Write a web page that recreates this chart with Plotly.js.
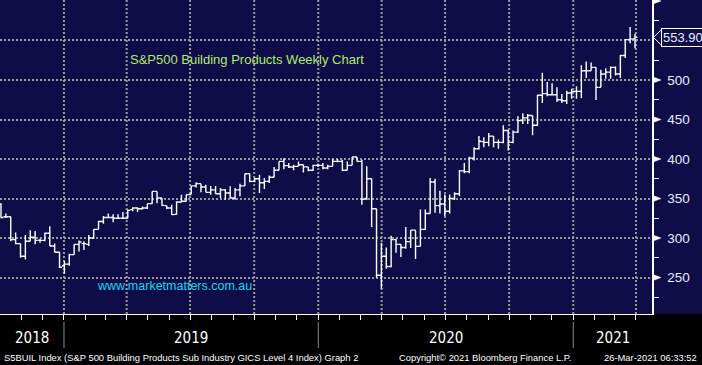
<!DOCTYPE html>
<html><head><meta charset="utf-8">
<script src="https://cdn.plot.ly/plotly-3.0.1.min.js"></script>
<style>html,body{margin:0;padding:0;background:#000;overflow:hidden}#chart{width:702px;height:365px}</style>
</head><body><div id="chart"></div>
<script>
// ---- data (weekly bars, first week ending 2018-09-28) ----
const firstWeek = [2018, 8, 28];
const opens = [343,327,327,298,293,277,296,301,297,297,306,290,282,265,267,279,292,293,292,300,311,321,326,326,325,325,325,336,338,337,338,343.5,359,350.7,341,338,330,345.6,346.5,355,366,368.8,364.6,357.8,361,356,361,357,350.7,361,366,381.4,371.7,375,370,371.7,377,385.7,397,391.6,389.9,390.7,392.8,390,385.7,392,392,388.6,390.7,397,397,385.7,392,402.5,397,350,375,337,253,277,264,298,292,288,295.5,310,289.5,311,331,371,341,343,334,350,356,385,384,401,413,422,421,429,421,421,436,421,434,448.6,452,455,442.7,480.6,482.7,481.4,481.4,475,473.8,483.5,485.6,485.6,511.7,511.7,515.9,490.7,507.5,510,515.9,507.5,531,551,552];
const highs = [344,331,327,307,293,304,310,309,299,307,315,293,283,271,280,292,297,296,304,311,322,328,331,330,330,333,336,339,339,340,343.5,359,359,350.7,341,342,346.5,354.9,355,366,370.5,368.8,367.5,366,366,363.3,362,365.4,363.3,368.8,381.4,381.4,376,380,376,379,389.9,397,401,395,392.8,397,392.8,390,392.8,394,395,392.8,400,400,399,397,402.5,402.5,399,391,375,337,294,288,303,299,292,314,310,310,336,336,376,375,360,355,355,358,386,395,403,415,429,427.5,433,429,424.6,442.7,437,436,454,458,457,455,481.4,509,497.4,496,490.7,482.3,486.5,489,492,518.5,523.5,522,516,513,515,517.2,517,531.6,551.7,567,558.4];
const lows = [325,325.5,296,292,275,273,296,292,294,296,290,282,262,255,265,279,283,285,290,299,311,318,325,320,325,324,325,334,333,336,336.8,343.5,344,341,336.8,329.6,329.6,345,346.5,355,364,358,357.8,354.9,356,350.7,348.6,350.7,348.6,352.8,366,370.5,370.5,357,362,369.6,377,385.7,387,388.6,385.7,390.7,383,384.4,385,390,387,387,390.7,395.8,384.4,385.7,392,397,342,348,314,250,236,261,263,281.5,276,286.6,287.5,273.6,289.5,310.6,331,332,331,328,331,348,353,382,382,398,412,415,416,415,413,420,410.7,420,433,444.4,444.4,430,442,471,479.3,481,472,470.9,469.6,476.4,476.4,477.2,502.5,511.7,474.7,490.7,501.6,501.6,505.8,502.5,527.7,546.6,540.3];
const closes = [326,327,298,293,277,296,301,297,297,306,290,282,263,267,279,292,295,293,300,311,321,326,326,325,325,325,335,338,337,338,343.5,359,350.7,341.4,338,329.6,345.6,346.5,355,366,368.8,364.6,357.8,361,356,361,357,350.7,361,366,381.4,371.7,375,370,371.7,377,385.7,397,391.6,389.9,390.7,392.8,390,385.7,392,392,388.6,390.7,397,397,385.7,392,402.5,397,349,375,337,253,277,264,298,292,288,295.5,310,289.5,311,331,371,341,343,334,350,356,385,384,401,413,422.5,421,429,421,421,436,421,434,448.6,452,455,442.7,480.6,482.7,481.4,481.4,475,473.8,483.5,485.6,485.6,511.7,511.7,515.9,490.7,507.5,510,515.9,507.5,531,551,552,553.9];
const yTickVals = [250, 300, 350, 400, 450, 500, 550, 600];
const yTickText = ['250', '300', '350', '400', '450', '500', '', ''];
const yearLabels = ['2018', '2019', '2020', '2021'];
const lastPrice = 553.90;
const titleText = 'S&amp;P500 Building Products Weekly Chart';
const siteText = 'www.marketmatters.com.au';
const footLeft = 'S5BUIL Index (S&amp;P 500 Building Products Sub Industry GICS Level 4 Index) Graph 2';
const footMid = 'Copyright\u00a9 2021 Bloomberg Finance L.P.';
const footRight = '26-Mar-2021 06:33:52';

// ---- geometry helpers ----
const DAY = 86400000;
const t0 = Date.UTC(firstWeek[0], firstWeek[1], firstWeek[2]);
const dates = closes.map((_, i) => new Date(t0 + i * 7 * DAY).toISOString().slice(0, 10));
const W = 652, H = 314, M_B = 51, M_R = 50;
const pxPerDay = 0.6967;
const xStart = t0 - (1 / pxPerDay) * DAY;
const xEnd = xStart + (W / pxPerDay) * DAY;
const iso = ms => new Date(ms).toISOString().replace('T', ' ').slice(0, 19);
const gridShift = 4.6 * DAY;
const yMin = 203.9, yMax = 601.2;
const unitsPerPx = (yMax - yMin) / H;

const NAVY = '#0e0d47';
const GRID = '#9a9a9a';

const quarterGrid = [], monthTicks = [], yearBounds = [];
for (let y = 2018; y <= 2021; y++) {
  for (let m = 0; m < 12; m++) {
    const t = Date.UTC(y, m, 1) - gridShift;
    if (t <= xStart || t >= xEnd) continue;
    monthTicks.push(iso(t));
    if (m % 3 === 0) quarterGrid.push(iso(t));
    if (m === 0) yearBounds.push(t);
  }
}
const toPx = t => (t - xStart) / DAY * pxPerDay;
const edges = [0].concat(yearBounds.map(toPx)).concat([W]);

const shapes = [];
shapes.push({type: 'rect', xref: 'paper', yref: 'paper', x0: 1, x1: (W + M_R) / W, y0: 0, y1: 1,
  fillcolor: NAVY, line: {width: 0}, layer: 'below'});
quarterGrid.forEach(d => shapes.push({type: 'line', xref: 'x', yref: 'paper', x0: d, x1: d, y0: 0, y1: 1,
  line: {color: GRID, width: 2, dash: '2px,2px'}, layer: 'below'}));
yearBounds.forEach(t => shapes.push({type: 'line', xref: 'x', yref: 'paper', x0: iso(t), x1: iso(t),
  y0: -8 / H, y1: -34 / H, line: {color: '#8a8a8a', width: 1}}));
const triH = 3 * unitsPerPx;
yTickVals.forEach(v => {
  if (v === 550) return;
  const x0 = 1 + 1 / W, x1 = 1 + 9 / W;
  shapes.push({type: 'path', xref: 'paper', yref: 'y',
    path: `M ${x0},${v - triH} L ${x1},${v} L ${x0},${v + triH} Z`,
    fillcolor: '#ffffff', line: {color: '#ffffff', width: 0.5}});
});
const pH = 7.5 * unitsPerPx;
shapes.push({type: 'path', xref: 'paper', yref: 'y',
  path: `M ${1 + 9 / W},${lastPrice + pH} L ${1 + 1.5 / W},${lastPrice} L ${1 + 9 / W},${lastPrice - pH}`,
  fillcolor: NAVY, line: {color: '#ffffff', width: 1}});

const annotations = [];
yearLabels.forEach((lab, i) => annotations.push({
  text: lab, xref: 'paper', yref: 'paper', x: (edges[i] + edges[i + 1]) / 2 / W, y: -24 / H,
  xanchor: 'center', yanchor: 'middle', showarrow: false,
  font: {family: 'Liberation Sans Narrow, DejaVu Sans Condensed, sans-serif', size: 15, color: '#ffffff'}}));
const footFont = {family: 'Liberation Sans, Arial, sans-serif', size: 9.4, color: '#ffffff'};
annotations.push({text: footLeft, xref: 'paper', yref: 'paper', x: 2 / W, y: -43 / H, xanchor: 'left', yanchor: 'middle', showarrow: false, font: footFont});
annotations.push({text: footMid, xref: 'paper', yref: 'paper', x: 397 / W, y: -43 / H, xanchor: 'left', yanchor: 'middle', showarrow: false, font: footFont});
annotations.push({text: footRight, xref: 'paper', yref: 'paper', x: 699 / W, y: -43 / H, xanchor: 'right', yanchor: 'middle', showarrow: false, font: footFont});
annotations.push({text: titleText, xref: 'paper', yref: 'paper', x: 128 / W, y: 1 - 60 / H, xanchor: 'left', yanchor: 'middle', showarrow: false,
  font: {family: 'Liberation Sans, Arial, sans-serif', size: 13, color: '#aeea6e'}});
annotations.push({text: siteText, xref: 'paper', yref: 'paper', x: 95 / W, y: 1 - 286 / H, xanchor: 'left', yanchor: 'middle', showarrow: false,
  font: {family: 'Liberation Sans, Arial, sans-serif', size: 12.5, color: '#19d7f0'}});
annotations.push({text: lastPrice.toFixed(2), xref: 'paper', yref: 'y', x: 1 + 9 / W, y: lastPrice, xanchor: 'left', yanchor: 'middle',
  showarrow: false, bgcolor: NAVY, bordercolor: '#ffffff', borderwidth: 1, borderpad: 1,
  font: {family: 'Liberation Sans, Arial, sans-serif', size: 13, color: '#e6ecff'}});

const trace = {
  type: 'ohlc', x: dates, open: opens, high: highs, low: lows, close: closes,
  increasing: {line: {color: '#ffffff', width: 1.4}},
  decreasing: {line: {color: '#ffffff', width: 1.4}},
  tickwidth: 0.5, hoverinfo: 'skip', showlegend: false
};

const layout = {
  width: 702, height: 365,
  margin: {l: 0, r: M_R, t: 0, b: M_B, pad: 0},
  paper_bgcolor: '#000000', plot_bgcolor: NAVY,
  showlegend: false,
  xaxis: {type: 'date', range: [iso(xStart), iso(xEnd)], rangeslider: {visible: false},
    showgrid: false, zeroline: false, showline: true, linecolor: '#ffffff', linewidth: 1,
    tickmode: 'array', tickvals: monthTicks, showticklabels: false,
    ticks: 'outside', ticklen: 5, tickcolor: '#ffffff', tickwidth: 1, fixedrange: true},
  yaxis: {side: 'right', range: [yMin, yMax], tickmode: 'array', tickvals: yTickVals, ticktext: yTickText,
    showgrid: true, gridcolor: GRID, gridwidth: 2, griddash: '2px,2px', zeroline: false,
    showline: true, linecolor: '#ffffff', linewidth: 1.5, ticks: '', ticklabelstandoff: 11,
    minor: {tick0: 225, dtick: 50, ticks: 'outside', ticklen: 5, tickcolor: '#ffffff', tickwidth: 1, showgrid: false},
    tickfont: {family: 'Liberation Sans, Arial, sans-serif', size: 13.5, color: '#e6ecff'}, fixedrange: true},
  shapes: shapes, annotations: annotations
};

Plotly.newPlot('chart', [trace], layout, {displayModeBar: false, staticPlot: true});
</script></body></html>
